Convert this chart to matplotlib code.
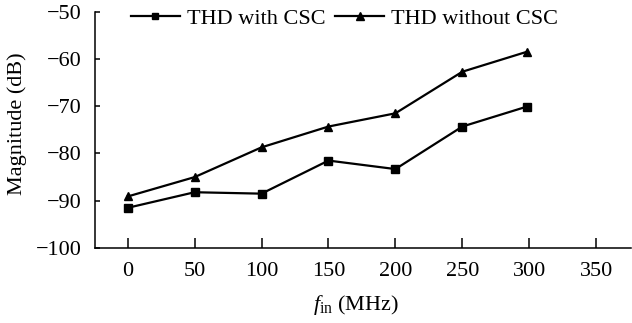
import matplotlib
matplotlib.use('Agg')
import matplotlib.pyplot as plt

plt.rcParams['font.family'] = ['Liberation Serif', 'DejaVu Serif']
plt.rcParams['mathtext.fontset'] = 'custom'
plt.rcParams['mathtext.rm'] = 'Liberation Serif'
plt.rcParams['mathtext.it'] = 'Liberation Serif:italic'

# frequency (MHz)
fin = [0, 50, 100, 150, 200, 250, 298]
# THD values (dB)
thd_with = [-91.5, -88.2, -88.5, -81.5, -83.3, -74.3, -70.1]
thd_without = [-89.1, -85.0, -78.7, -74.3, -71.5, -62.7, -58.5]

xticks = [0, 50, 100, 150, 200, 250, 300, 350]
yticks = [-100, -90, -80, -70, -60, -50]

fs = 16
W, H = 632, 323
fig = plt.figure(figsize=(W / 100, H / 100), dpi=100)
ax = fig.add_axes([95 / W, 1 - 248 / H, 536 / W, 236.3 / H])

ax.plot(fin, thd_with, color='black', lw=1.6, marker='s', ms=5.5,
        label='THD with CSC')
ax.plot(fin, thd_without, color='black', lw=1.6, marker='^', ms=6,
        label='THD without CSC')

ax.set_xlim(-24.4, 376)
ax.set_ylim(-100, -50)
ax.set_xticks(xticks)
ax.set_yticks(yticks)
ax.tick_params(axis='x', direction='in', length=7, width=1.1, labelsize=fs, pad=10.4)
ax.tick_params(axis='y', direction='in', length=3.6, width=1.1, labelsize=fs, pad=9.4)
for s in ['top', 'right']:
    ax.spines[s].set_visible(False)
for s in ['left', 'bottom']:
    ax.spines[s].set_linewidth(1.1)

fig.text(17 / W, 1 - 124 / H, 'Magnitude (dB)', rotation=90, ha='center',
         va='center', fontsize=fs)
fig.text(356 / W, 1 - 305 / H, r'$\mathit{f}_{\rm in}$ (MHz)', ha='center',
         va='center', fontsize=fs)

ax.legend(loc='center left', bbox_to_anchor=(131 / W, 1 - 18.5 / H),
          bbox_transform=fig.transFigure, ncol=2, frameon=False,
          fontsize=fs, handlelength=2.2, handletextpad=0.3, columnspacing=0.45,
          borderpad=0, borderaxespad=0, markerscale=0.85)

fig.savefig('out.png', dpi=100)
